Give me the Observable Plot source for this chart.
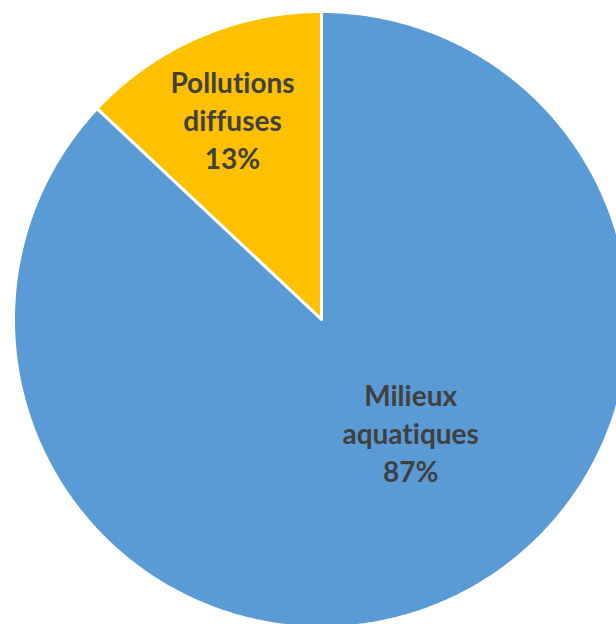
<!DOCTYPE html>
<html>
<head>
<meta charset="utf-8">
<script src="https://cdn.jsdelivr.net/npm/d3@7"></script>
<script src="https://cdn.jsdelivr.net/npm/@observablehq/plot@0.6"></script>
<style>
  html, body { margin: 0; padding: 0; background: #fff; overflow: hidden; }
  #chart svg { display: block; overflow: hidden; }
  #chart text { font-variant-ligatures: none; font-feature-settings: "liga" 0, "clig" 0; }
</style>
</head>
<body>
<div id="chart"></div>
<script>
// Data
const categories = ["Pollutions diffuses", "Milieux aquatiques"];
const labels = ["Pollutions\ndiffuses", "Milieux\naquatiques"];
const shares = [13, 87];
const colors = ["#FFC000", "#5B9BD5"];

// Slice geometry: first slice runs counter-clockwise from 12 o'clock,
// the second continues with the remainder.
const total = d3.sum(shares);
const toRad = v => v / total * 2 * Math.PI;
let start = 0;
const slices = categories.map((c, i) => {
  const a0 = start;
  const a1 = start - toRad(shares[i]);
  start = a1;
  return {category: c, label: labels[i], value: shares[i], a0, a1};
});

// Polygon points (angle from top, positive = clockwise)
const polyPts = [];
slices.forEach(s => {
  const n = Math.max(8, Math.ceil(Math.abs(s.a1 - s.a0) / (Math.PI / 360)));
  polyPts.push({category: s.category, x: 0, y: 0});
  for (let k = 0; k <= n; k++) {
    const a = s.a0 + (s.a1 - s.a0) * k / n;
    polyPts.push({category: s.category, x: Math.sin(a), y: Math.cos(a)});
  }
  polyPts.push({category: s.category, x: 0, y: 0});
});

// Label placement (Excel-like "best fit" inside slice)
const labelPos = [{dA: -0.012, r: 0.708}, {dA: -0.255, r: 0.47}];
const labelData = slices.map((s, i) => {
  const mid = (s.a0 + s.a1) / 2 + labelPos[i].dA;
  const r = labelPos[i].r;
  return {text: `${s.label}\n${s.value}%`, x: r * Math.sin(mid), y: r * Math.cos(mid)};
});

const R = 308, cx = 321, cy = 319;
const chart = Plot.plot({
  width: 616,
  height: 624,
  margin: 0,
  x: {domain: [-1, 1], range: [cx - R, cx + R], axis: null},
  y: {domain: [-1, 1], range: [cy + R, cy - R], axis: null},
  color: {domain: categories, range: colors},
  style: {background: "#fff"},
  marks: [
    Plot.line(polyPts, {
      x: "x", y: "y", z: "category",
      fill: "category",
      stroke: "white", strokeWidth: 3, strokeLinejoin: "miter",
      curve: "linear"
    }),
    Plot.text(labelData, {
      x: "x",
      y: "y",
      dy: -2,
      text: "text",
      fill: "#404040",
      fontSize: 28,
      fontWeight: "bold",
      fontFamily: "Lato",
      lineHeight: 1.357
    })
  ]
});
document.getElementById("chart").appendChild(chart);
</script>
</body>
</html>
